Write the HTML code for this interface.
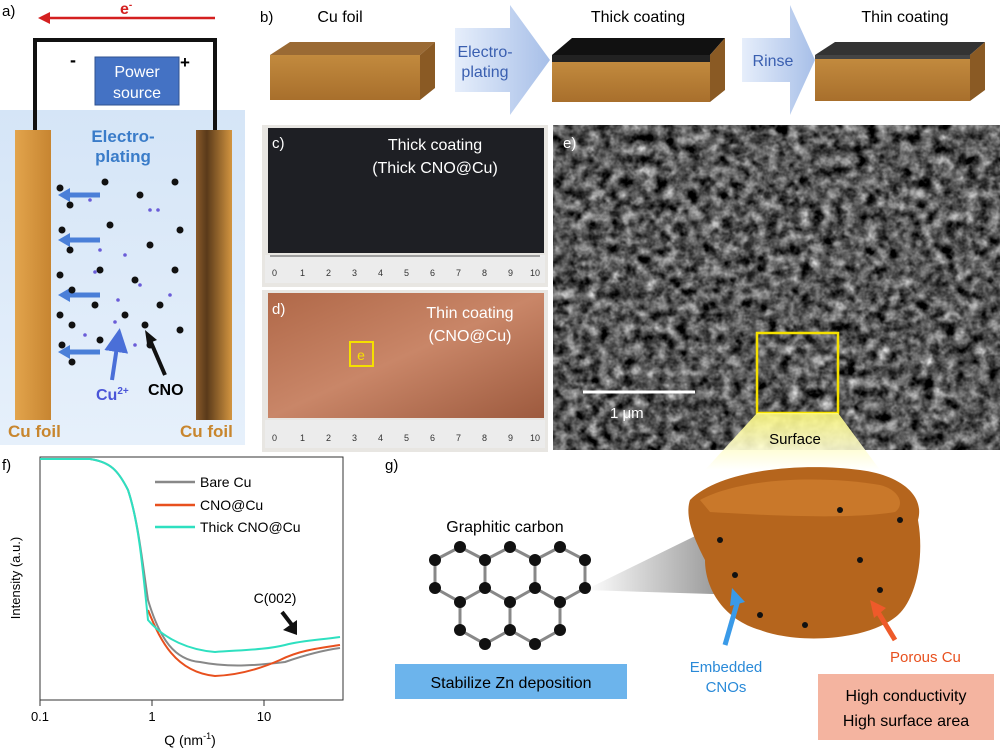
<!DOCTYPE html>
<html><head><meta charset="utf-8"><style>body{margin:0;background:#fff}svg{display:block;font-family:"Liberation Sans",sans-serif}</style></head><body>
<svg width="1000" height="755" viewBox="0 0 1000 755">
<defs>
<linearGradient id="bg" x1="0" x2="0" y1="0" y2="1"><stop offset="0" stop-color="#d5e5f7"/><stop offset="1" stop-color="#e6f0fb"/></linearGradient>
<linearGradient id="foilL" x1="0" x2="1"><stop offset="0" stop-color="#e2a44c"/><stop offset="1" stop-color="#c78531"/></linearGradient>
<linearGradient id="foilR" x1="0" x2="1"><stop offset="0" stop-color="#8a5a2a"/><stop offset="0.3" stop-color="#5a3a1a"/><stop offset="1" stop-color="#d39540"/></linearGradient>
<linearGradient id="blk" x1="0" x2="0" y1="0" y2="1"><stop offset="0" stop-color="#c28a3e"/><stop offset="1" stop-color="#a86f2c"/></linearGradient>
<linearGradient id="arr" x1="0" x2="1"><stop offset="0" stop-color="#e6eefb"/><stop offset="1" stop-color="#a7bfe8"/></linearGradient>
<linearGradient id="cu" x1="0" x2="1" y1="0" y2="1"><stop offset="0" stop-color="#b06848"/><stop offset="0.5" stop-color="#c98668"/><stop offset="1" stop-color="#9d5a3e"/></linearGradient>
<linearGradient id="cone" x1="0" x2="1"><stop offset="0" stop-color="#fff"/><stop offset="1" stop-color="#666"/></linearGradient>
<linearGradient id="ycone" x1="0" x2="0" y1="0" y2="1"><stop offset="0" stop-color="#fffb80"/><stop offset="1" stop-color="#fff"/></linearGradient>
<filter id="sem" x="0" y="0" width="1" height="1" filterUnits="objectBoundingBox" color-interpolation-filters="sRGB"><feTurbulence type="fractalNoise" baseFrequency="0.09" numOctaves="3" seed="4"/><feColorMatrix type="matrix" values="0.33 0.33 0.33 0 0  0.33 0.33 0.33 0 0  0.33 0.33 0.33 0 0  0 0 0 0 1"/><feComponentTransfer><feFuncR type="linear" slope="2" intercept="-0.65"/><feFuncG type="linear" slope="2" intercept="-0.65"/><feFuncB type="linear" slope="2" intercept="-0.65"/></feComponentTransfer></filter>
<clipPath id="semclip"><rect x="553" y="125" width="447" height="325"/></clipPath>
<marker id="ah" markerWidth="6" markerHeight="6" refX="3" refY="3" orient="auto"><path d="M0,0L6,3L0,6z" fill="#4a6fd8"/></marker>
</defs>
<!-- Panel a -->
<text x="2" y="16" font-size="15">a)</text>
<rect x="0" y="110" width="245" height="335" fill="url(#bg)"/>
<line x1="45" y1="18" x2="215" y2="18" stroke="#d42020" stroke-width="2.5"/>
<path d="M38,18 L50,12 L50,24z" fill="#d42020"/>
<text x="120" y="14" font-size="16" fill="#d42020" font-weight="bold">e<tspan font-size="10" dy="-6">-</tspan></text>
<path d="M35,135 V40 H215 V135" fill="none" stroke="#111" stroke-width="4"/>
<rect x="95" y="57" width="84" height="48" fill="#4472c4" stroke="#2f528f"/>
<text x="137" y="77" font-size="16" fill="#fff" text-anchor="middle">Power</text>
<text x="137" y="98" font-size="16" fill="#fff" text-anchor="middle">source</text>
<text x="70" y="66" font-size="18" font-weight="bold">-</text>
<text x="180" y="68" font-size="17" font-weight="bold">+</text>
<rect x="15" y="130" width="36" height="290" fill="url(#foilL)"/>
<rect x="196" y="130" width="36" height="290" fill="url(#foilR)"/>
<text x="123" y="142" font-size="17" fill="#3a7cc9" font-weight="bold" text-anchor="middle">Electro-</text>
<text x="123" y="162" font-size="17" fill="#3a7cc9" font-weight="bold" text-anchor="middle">plating</text>
<g stroke="#4a7fd8" stroke-width="5">
<line x1="100" y1="195" x2="68" y2="195"/><line x1="100" y1="240" x2="68" y2="240"/><line x1="100" y1="295" x2="68" y2="295"/><line x1="100" y1="352" x2="68" y2="352"/></g>
<g fill="#4a7fd8"><path d="M58,195l12,-7v14z"/><path d="M58,240l12,-7v14z"/><path d="M58,295l12,-7v14z"/><path d="M58,352l12,-7v14z"/></g>
<g fill="#111">
<circle cx="60" cy="188" r="3.5"/><circle cx="70" cy="205" r="3.5"/><circle cx="62" cy="230" r="3.5"/><circle cx="70" cy="250" r="3.5"/><circle cx="60" cy="275" r="3.5"/><circle cx="72" cy="290" r="3.5"/><circle cx="60" cy="315" r="3.5"/><circle cx="72" cy="325" r="3.5"/><circle cx="62" cy="345" r="3.5"/><circle cx="72" cy="362" r="3.5"/><circle cx="105" cy="182" r="3.5"/><circle cx="140" cy="195" r="3.5"/><circle cx="175" cy="182" r="3.5"/><circle cx="110" cy="225" r="3.5"/><circle cx="150" cy="245" r="3.5"/><circle cx="180" cy="230" r="3.5"/><circle cx="100" cy="270" r="3.5"/><circle cx="135" cy="280" r="3.5"/><circle cx="175" cy="270" r="3.5"/><circle cx="95" cy="305" r="3.5"/><circle cx="125" cy="315" r="3.5"/><circle cx="160" cy="305" r="3.5"/><circle cx="180" cy="330" r="3.5"/><circle cx="145" cy="325" r="3.5"/><circle cx="100" cy="340" r="3.5"/><circle cx="150" cy="345" r="3.5"/></g>
<g fill="#6a5cd8"><circle cx="90" cy="200" r="1.8"/><circle cx="150" cy="210" r="1.8"/><circle cx="158" cy="210" r="1.8"/><circle cx="100" cy="250" r="1.8"/><circle cx="125" cy="255" r="1.8"/><circle cx="95" cy="272" r="1.8"/><circle cx="140" cy="285" r="1.8"/><circle cx="118" cy="300" r="1.8"/><circle cx="170" cy="295" r="1.8"/><circle cx="115" cy="322" r="1.8"/><circle cx="135" cy="345" r="1.8"/><circle cx="85" cy="335" r="1.8"/></g>
<line x1="112" y1="380" x2="118" y2="340" stroke="#4a6fd8" stroke-width="4" marker-end="url(#ah)"/>
<line x1="165" y1="375" x2="150" y2="340" stroke="#111" stroke-width="4"/><path d="M145,330l12,10l-10,4z" fill="#111"/>
<text x="96" y="400" font-size="16" fill="#4a55d8" font-weight="bold">Cu<tspan font-size="10" dy="-6">2+</tspan></text>
<text x="148" y="395" font-size="16" font-weight="bold">CNO</text>
<text x="8" y="437" font-size="17" fill="#c8862e" font-weight="bold">Cu foil</text>
<text x="180" y="437" font-size="17" fill="#c8862e" font-weight="bold">Cu foil</text>
<!-- Panel b -->
<text x="260" y="22" font-size="15">b)</text>
<path d="M270,100 V55 L290,42 H435 L420,55 Z" fill="#9a6a34"/>
<rect x="270" y="55" width="150" height="45" fill="url(#blk)"/><path d="M420,55 L435,42 V88 L420,100z" fill="#8a5a24"/>
<text x="340" y="22" font-size="16" text-anchor="middle">Cu foil</text>
<path d="M455,28 H510 V5 L550,60 L510,115 V92 H455z" fill="url(#arr)"/>
<text x="485" y="57" font-size="16" fill="#3a5fb0" text-anchor="middle">Electro-</text>
<text x="485" y="77" font-size="16" fill="#3a5fb0" text-anchor="middle">plating</text>
<path d="M552,55 L572,38 H725 L710,55 Z" fill="#111"/>
<rect x="552" y="55" width="158" height="8" fill="#222"/>
<rect x="552" y="62" width="158" height="40" fill="url(#blk)"/><path d="M710,55 L725,38 V90 L710,102z" fill="#8a5a24"/>
<text x="638" y="22" font-size="16" text-anchor="middle">Thick coating</text>
<path d="M742,38 H790 V5 L815,60 L790,115 V82 H742z" fill="url(#arr)"/>
<text x="773" y="66" font-size="16" fill="#3a5fb0" text-anchor="middle">Rinse</text>
<path d="M815,55 L835,42 H985 L970,55 Z" fill="#333"/>
<rect x="815" y="55" width="155" height="4" fill="#444"/>
<rect x="815" y="59" width="155" height="42" fill="url(#blk)"/><path d="M970,55 L985,42 V90 L970,101z" fill="#8a5a24"/>
<text x="905" y="22" font-size="16" text-anchor="middle">Thin coating</text>
<!-- c -->
<rect x="262" y="125" width="286" height="162" fill="#e8e6e2"/>
<rect x="268" y="128" width="276" height="125" fill="#1e1f24"/>
<rect x="265" y="255" width="280" height="28" fill="#ececec"/>
<g stroke="#555" stroke-width="1"><line x1="270" y1="256" x2="540" y2="256"/></g>
<g font-size="9" fill="#333"><text x="272" y="276">0</text><text x="300" y="276">1</text><text x="326" y="276">2</text><text x="352" y="276">3</text><text x="378" y="276">4</text><text x="404" y="276">5</text><text x="430" y="276">6</text><text x="456" y="276">7</text><text x="482" y="276">8</text><text x="508" y="276">9</text><text x="530" y="276">10</text></g>
<text x="272" y="148" font-size="15" fill="#fff">c)</text>
<text x="435" y="150" font-size="16" fill="#fff" text-anchor="middle">Thick coating</text>
<text x="435" y="173" font-size="16" fill="#fff" text-anchor="middle">(Thick CNO@Cu)</text>
<!-- d -->
<rect x="262" y="290" width="286" height="162" fill="#e8e6e2"/>
<rect x="268" y="293" width="276" height="125" fill="url(#cu)"/>
<rect x="265" y="420" width="280" height="28" fill="#ececec"/>
<g font-size="9" fill="#333"><text x="272" y="441">0</text><text x="300" y="441">1</text><text x="326" y="441">2</text><text x="352" y="441">3</text><text x="378" y="441">4</text><text x="404" y="441">5</text><text x="430" y="441">6</text><text x="456" y="441">7</text><text x="482" y="441">8</text><text x="508" y="441">9</text><text x="530" y="441">10</text></g>
<text x="272" y="314" font-size="15" fill="#fff">d)</text>
<text x="470" y="318" font-size="16" fill="#fff" text-anchor="middle">Thin coating</text>
<text x="470" y="341" font-size="16" fill="#fff" text-anchor="middle">(CNO@Cu)</text>
<rect x="350" y="342" width="23" height="24" fill="none" stroke="#f5e000" stroke-width="2"/>
<text x="361" y="360" font-size="14" fill="#f5e000" text-anchor="middle">e</text>
<!-- e -->
<rect x="553" y="125" width="447" height="325" fill="#444"/>
<g clip-path="url(#semclip)"><rect x="553" y="125" width="447" height="325" filter="url(#sem)"/></g>
<text x="563" y="148" font-size="15" fill="#fff">e)</text>
<line x1="583" y1="392" x2="695" y2="392" stroke="#fff" stroke-width="3"/>
<text x="610" y="418" font-size="15" fill="#fff">1 μm</text>
<rect x="757" y="333" width="81" height="80" fill="none" stroke="#f5e000" stroke-width="2.5"/>
<path d="M757,413 H838 L880,470 H705z" fill="url(#ycone)" opacity="0.9"/>
<text x="795" y="444" font-size="15" text-anchor="middle">Surface</text>
<!-- f -->
<text x="2" y="470" font-size="15">f)</text>
<rect x="40" y="457" width="303" height="243" fill="none" stroke="#333"/>
<g stroke="#333"><line x1="40" y1="700" x2="40" y2="706"/><line x1="152" y1="700" x2="152" y2="706"/><line x1="264" y1="700" x2="264" y2="706"/></g>
<g font-size="13" text-anchor="middle"><text x="40" y="721">0.1</text><text x="152" y="721">1</text><text x="264" y="721">10</text></g>
<text x="190" y="745" font-size="14" text-anchor="middle">Q (nm<tspan font-size="9" dy="-6">-1</tspan><tspan dy="6">)</tspan></text>
<text transform="translate(20,578) rotate(-90)" font-size="13" text-anchor="middle">Intensity (a.u.)</text>
<path d="M40,459 H90 C110,462 118,470 128,490 C138,520 142,560 148,600 C160,640 175,660 200,662 C230,668 260,665 285,662 C305,655 325,650 340,648" fill="none" stroke="#888" stroke-width="2"/>
<path d="M148,610 C160,640 175,672 215,676 C240,675 262,668 280,660 C300,650 320,648 340,645" fill="none" stroke="#e8501e" stroke-width="2"/>
<path d="M40,459 H90 C110,462 118,470 128,490 C138,520 142,560 148,620 C165,640 190,650 215,652 C240,650 265,650 285,645 C305,640 320,640 340,637" fill="none" stroke="#2ee0c0" stroke-width="2"/>
<g font-size="14"><line x1="155" y1="482" x2="195" y2="482" stroke="#888" stroke-width="2.5"/><text x="200" y="487">Bare Cu</text>
<line x1="155" y1="505" x2="195" y2="505" stroke="#e8501e" stroke-width="2.5"/><text x="200" y="510">CNO@Cu</text>
<line x1="155" y1="527" x2="195" y2="527" stroke="#2ee0c0" stroke-width="2.5"/><text x="200" y="532">Thick CNO@Cu</text></g>
<text x="275" y="603" font-size="14" text-anchor="middle">C(002)</text>
<line x1="282" y1="612" x2="292" y2="625" stroke="#111" stroke-width="4"/><path d="M283,630l14,5l0,-15z" fill="#111"/>
<!-- g -->
<text x="385" y="470" font-size="15">g)</text>
<text x="505" y="532" font-size="16" text-anchor="middle">Graphitic carbon</text>
<path d="M585,590 L738,515 L745,595z" fill="url(#cone)" opacity="0.8"/>
<g stroke="#888" stroke-width="3" fill="none">
<path d="M435,560 l25,-13 l25,13 l25,-13 l25,13 l25,-13 l25,13 v28 l-25,14 l-25,-14 l-25,14 l-25,-14 l-25,14 l-25,-14z"/>
<path d="M485,560 v28 M535,560 v28"/>
<path d="M460,602 v28 l25,14 l25,-14 l25,14 l25,-14 v-28 M510,602 v28"/>
</g>
<g fill="#111"><circle cx="435" cy="560" r="6"/><circle cx="460" cy="547" r="6"/><circle cx="485" cy="560" r="6"/><circle cx="510" cy="547" r="6"/><circle cx="535" cy="560" r="6"/><circle cx="560" cy="547" r="6"/><circle cx="585" cy="560" r="6"/><circle cx="435" cy="588" r="6"/><circle cx="485" cy="588" r="6"/><circle cx="535" cy="588" r="6"/><circle cx="585" cy="588" r="6"/><circle cx="460" cy="602" r="6"/><circle cx="510" cy="602" r="6"/><circle cx="560" cy="602" r="6"/><circle cx="460" cy="630" r="6"/><circle cx="510" cy="630" r="6"/><circle cx="560" cy="630" r="6"/><circle cx="485" cy="644" r="6"/><circle cx="535" cy="644" r="6"/></g>
<rect x="395" y="664" width="232" height="35" fill="#6cb4ec"/>
<text x="511" y="688" font-size="16" text-anchor="middle">Stabilize Zn deposition</text>
<path d="M690,500 C720,470 800,462 860,470 C900,475 925,495 918,520 C925,560 915,600 898,615 C870,640 800,645 760,630 C725,620 705,590 705,560 C692,535 685,515 690,500z" fill="#b5651d"/>
<path d="M700,500 C740,478 820,475 880,485 C900,490 905,505 895,512 C850,520 760,515 710,512z" fill="#c9782a"/>
<g fill="#111"><circle cx="735" cy="575" r="3"/><circle cx="760" cy="615" r="3"/><circle cx="880" cy="590" r="3"/><circle cx="900" cy="520" r="3"/><circle cx="840" cy="510" r="3"/><circle cx="720" cy="540" r="3"/><circle cx="805" cy="625" r="3"/><circle cx="860" cy="560" r="3"/></g>
<line x1="725" y1="645" x2="738" y2="600" stroke="#3a9ae8" stroke-width="5"/><path d="M732,588l13,14l-15,4z" fill="#3a9ae8"/>
<text x="726" y="672" font-size="15" fill="#2a8ad8" text-anchor="middle">Embedded</text>
<text x="726" y="692" font-size="15" fill="#2a8ad8" text-anchor="middle">CNOs</text>
<line x1="895" y1="640" x2="878" y2="612" stroke="#ee5a2a" stroke-width="5"/><path d="M870,600l16,8l-12,10z" fill="#ee5a2a"/>
<text x="890" y="662" font-size="15" fill="#e8501e">Porous Cu</text>
<rect x="818" y="674" width="176" height="66" fill="#f4b4a0"/>
<text x="906" y="701" font-size="16" text-anchor="middle">High conductivity</text>
<text x="906" y="726" font-size="16" text-anchor="middle">High surface area</text>
</svg>
</body></html>
